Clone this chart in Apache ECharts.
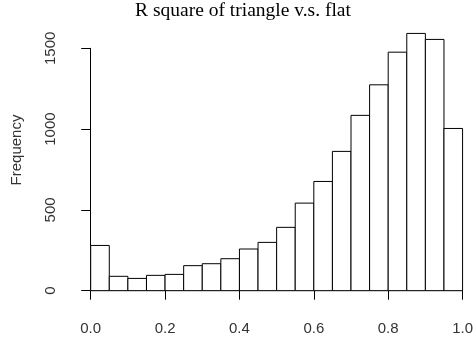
<!DOCTYPE html>
<html>
<head>
<meta charset="utf-8">
<script src="https://cdn.jsdelivr.net/npm/echarts@6/dist/echarts.min.js"></script>
<style>html,body{margin:0;padding:0;background:#fff}#c{width:476px;height:342px}</style>
</head>
<body>
<div id="c"></div>
<script>
var binStarts = [0.00,0.05,0.10,0.15,0.20,0.25,0.30,0.35,0.40,0.45,0.50,0.55,0.60,0.65,0.70,0.75,0.80,0.85,0.90,0.95];
var binEnds = [0.05,0.10,0.15,0.20,0.25,0.30,0.35,0.40,0.45,0.50,0.55,0.60,0.65,0.70,0.75,0.80,0.85,0.90,0.95,1.00];
var frequencies = [280,89,76,95,101,155,167,198,258,299,392,542,676,862,1085,1274,1476,1592,1555,1004];
var xTicks = [0.0,0.2,0.4,0.6,0.8,1.0];
var yTicks = [0,500,1000,1500];
var titleText = 'R square of triangle v.s. flat';
var yLabel = 'Frequency';

var histData = binStarts.map(function (s, i) { return [s, binEnds[i], frequencies[i]]; });

var chart = echarts.init(document.getElementById('c'), null, {renderer: 'canvas'});
var labelFont = {fontFamily: 'Liberation Sans', fontSize: 15, color: '#333'};
chart.setOption({
  animation: false,
  backgroundColor: '#fff',
  title: {
    text: titleText, left: 243, top: 1, textAlign: 'center', padding: 0,
    textStyle: {fontFamily: 'Liberation Serif', fontWeight: 'normal', fontSize: 19.5, color: '#000'}
  },
  graphic: [{
    type: 'text', x: 17, y: 150, rotation: Math.PI / 2,
    style: {text: yLabel, textAlign: 'center', textVerticalAlign: 'middle',
      font: '15px "Liberation Sans"', fill: '#333'}
  }],
  grid: {left: 90.7, right: 8.7, top: 48.3, bottom: 51.3, containLabel: false},
  xAxis: [{
    type: 'value', min: xTicks[0], max: xTicks[xTicks.length - 1], interval: 0.2,
    offset: 10,
    axisLine: {show: true, lineStyle: {color: '#000', width: 1}},
    axisTick: {show: true, inside: false, length: 9, lineStyle: {color: '#000'}},
    axisLabel: Object.assign({margin: 21, formatter: function (v) { return v.toFixed(1); }, showMaxLabel: true, showMinLabel: true}, labelFont),
    splitLine: {show: false}
  }],
  yAxis: [{
    type: 'value', min: yTicks[0], max: yTicks[yTicks.length - 1], interval: 500,
    offset: 14.7,
    axisLine: {show: true, lineStyle: {color: '#000', width: 1}},
    axisTick: {show: true, inside: false, length: 9.5, lineStyle: {color: '#000'}},
    axisLabel: Object.assign({margin: 18, rotate: 90, formatter: function (v) { return String(v); }}, labelFont),
    splitLine: {show: false}
  }],
  series: [{
    type: 'custom', clip: false,
    encode: {x: [0, 1], y: 2},
    data: histData,
    renderItem: function (params, api) {
      var p0 = api.coord([api.value(0), api.value(2)]);
      var p1 = api.coord([api.value(1), 0]);
      return {
        type: 'rect',
        shape: {x: p0[0], y: p0[1], width: p1[0] - p0[0], height: p1[1] - p0[1]},
        style: {fill: '#fff', stroke: '#000', lineWidth: 1}
      };
    }
  }]
});
</script>
</body>
</html>
